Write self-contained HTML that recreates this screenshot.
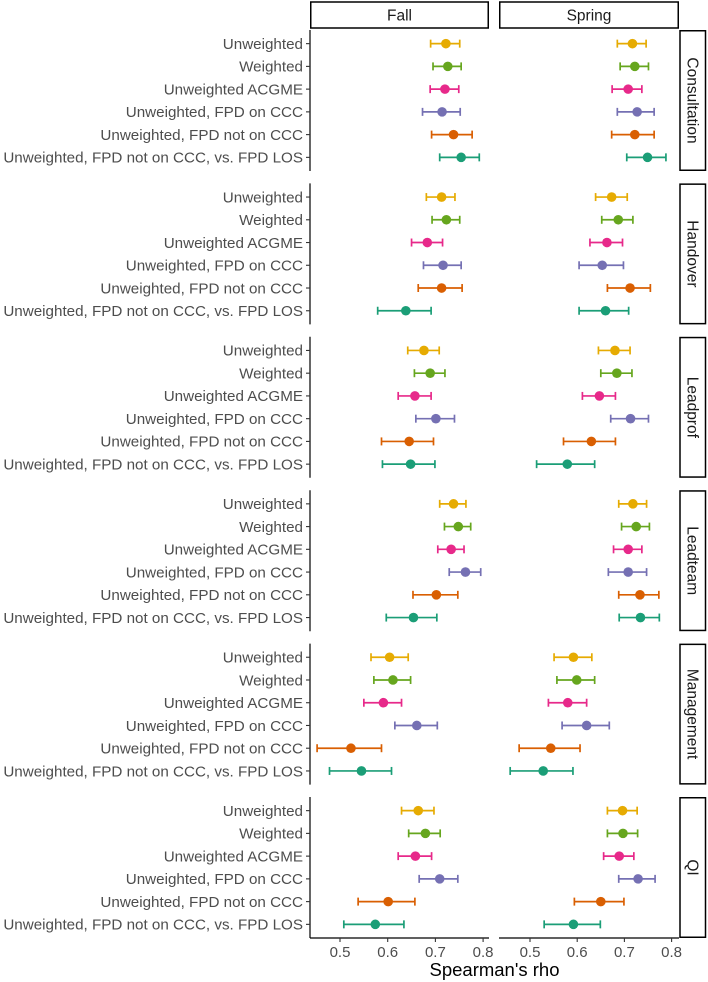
<!DOCTYPE html>
<html><head><meta charset="utf-8"><style>
body{margin:0;background:#fff;}
svg{display:block;font-family:"Liberation Sans",sans-serif;}
</style></head><body>
<svg id="chart" width="708" height="982" xmlns="http://www.w3.org/2000/svg"></svg>
<script>
const measures = ["Consultation","Handover","Leadprof","Leadteam","Management","QI"];
const seasons = ["Fall","Spring"];
const methods = ["Unweighted","Weighted","Unweighted ACGME","Unweighted, FPD on CCC","Unweighted, FPD not on CCC","Unweighted, FPD not on CCC, vs. FPD LOS"];
const colors = ["#E6AB02","#66A61E","#E7298A","#7570B3","#D95F02","#1B9E77"];
const xTicks = [0.5,0.6,0.7,0.8];
// [measure][method] = [lo, est, hi]
const fallValues = [
 [[0.690,0.722,0.751],[0.695,0.726,0.754],[0.689,0.720,0.749],[0.673,0.714,0.752],[0.692,0.738,0.777],[0.709,0.754,0.792]],
 [[0.681,0.713,0.741],[0.693,0.723,0.751],[0.650,0.683,0.715],[0.675,0.716,0.754],[0.664,0.713,0.756],[0.579,0.638,0.691]],
 [[0.642,0.676,0.708],[0.656,0.689,0.720],[0.622,0.657,0.691],[0.659,0.701,0.740],[0.587,0.645,0.696],[0.589,0.648,0.699]],
 [[0.709,0.738,0.764],[0.719,0.748,0.774],[0.705,0.733,0.760],[0.729,0.763,0.795],[0.653,0.702,0.747],[0.597,0.654,0.703]],
 [[0.565,0.604,0.643],[0.571,0.611,0.648],[0.550,0.591,0.629],[0.615,0.661,0.704],[0.452,0.523,0.587],[0.478,0.545,0.608]],
 [[0.629,0.664,0.697],[0.644,0.679,0.710],[0.622,0.658,0.692],[0.666,0.709,0.747],[0.538,0.601,0.657],[0.508,0.574,0.634]]
];
const springValues = [
 [[0.685,0.717,0.746],[0.691,0.722,0.751],[0.674,0.708,0.737],[0.685,0.727,0.763],[0.673,0.722,0.763],[0.705,0.749,0.788]],
 [[0.639,0.673,0.706],[0.652,0.687,0.718],[0.627,0.663,0.696],[0.604,0.653,0.698],[0.664,0.712,0.755],[0.604,0.660,0.709]],
 [[0.645,0.680,0.712],[0.650,0.684,0.716],[0.611,0.647,0.681],[0.671,0.713,0.751],[0.571,0.630,0.681],[0.514,0.579,0.637]],
 [[0.688,0.718,0.747],[0.694,0.725,0.753],[0.677,0.708,0.737],[0.666,0.708,0.747],[0.688,0.733,0.773],[0.689,0.734,0.774]],
 [[0.551,0.592,0.631],[0.557,0.599,0.637],[0.539,0.580,0.620],[0.568,0.620,0.668],[0.477,0.544,0.606],[0.458,0.528,0.591]],
 [[0.664,0.696,0.727],[0.664,0.697,0.728],[0.656,0.689,0.720],[0.688,0.729,0.765],[0.594,0.650,0.699],[0.530,0.592,0.649]]
];
const svg=document.getElementById('chart');
const NS="http://www.w3.org/2000/svg";
function mk(tag,attrs,parent){const e=document.createElementNS(NS,tag);for(const k in attrs)e.setAttribute(k,attrs[k]);(parent||svg).appendChild(e);return e;}
const cols=[{x0:310,x1:489,z:340,s:477},{x0:499,x1:679,z:530,s:472}];
function xScale(c,v){return cols[c].z+(v-0.5)*cols[c].s;}
const top0=30,ph=141,step=153.4;
function yRow(p,i){return top0+p*step+(i+0.6)*ph/6.2;}
seasons.forEach((s,c)=>{
 const r=mk('rect',{x:cols[c].x0+0.75,y:2,width:cols[c].x1-cols[c].x0-1.5,height:26,fill:'#fff',stroke:'#000','stroke-width':1.5});
 
 
 const t=mk('text',{x:(cols[c].x0+cols[c].x1)/2,y:20.5,'text-anchor':'middle','font-size':15.5,fill:'#1a1a1a'});
 t.textContent=s;
 
 
});
measures.forEach((m,p)=>{
 const pt=top0+p*step,pb=pt+ph;
 const g=mk('g',{});
 
 
 const r=mk('rect',{x:680,y:pt+0.75,width:25.5,height:ph-1.5,fill:'#fff',stroke:'#000','stroke-width':1.5},g);
 
 
 const t=mk('text',{x:0,y:0,'text-anchor':'middle','font-size':15.5,fill:'#1a1a1a',transform:`translate(687.5,${pt+ph/2}) rotate(90)`},g);
 t.textContent=m;
 
 
 const al=mk('line',{x1:310,x2:310,y1:pt,y2:pb,stroke:'#000','stroke-width':1.2},g);
 
 
 methods.forEach((me,i)=>{
  const y=yRow(p,i);
  const tk=mk('line',{x1:306,x2:310,y1:y,y2:y,stroke:'#333','stroke-width':1.1},g);
  
  
  const lb=mk('text',{x:303,y:y+5.3,'text-anchor':'end','font-size':15.2,fill:'#4d4d4d'},g);
  lb.textContent=me;
  
  
  [fallValues,springValues].forEach((vals,c)=>{
   const d=vals[p][i];
   const xl=xScale(c,d[0]),xe=xScale(c,d[1]),xh=xScale(c,d[2]);
   const eg=mk('g',{stroke:colors[i],'stroke-width':1.7},g);
   
   
   mk('line',{x1:xl,x2:xh,y1:y,y2:y},eg);
   mk('line',{x1:xl,x2:xl,y1:y-4,y2:y+4},eg);
   mk('line',{x1:xh,x2:xh,y1:y-4,y2:y+4},eg);
   const c1=mk('circle',{cx:xe,cy:y,r:4.8,fill:colors[i]},g);
   
   
  });
 });
});
const axb=top0+5*step+ph;
cols.forEach((c,ci)=>{
 const l=mk('line',{x1:c.x0,x2:c.x1,y1:axb,y2:axb,stroke:'#000','stroke-width':1.2});
 
 
 xTicks.forEach(v=>{
  const x=xScale(ci,v);
  const tk=mk('line',{x1:x,x2:x,y1:axb,y2:axb+4,stroke:'#333','stroke-width':1.1});
  
  
  const tl=mk('text',{x:x,y:axb+19,'text-anchor':'middle','font-size':15,fill:'#4d4d4d'});
  tl.textContent=String(v);
  
  
 });
});
const xt=mk('text',{x:(310+679)/2,y:976,'text-anchor':'middle','font-size':18.5,fill:'#000'});
xt.textContent="Spearman's rho";


</script>
</body></html>
